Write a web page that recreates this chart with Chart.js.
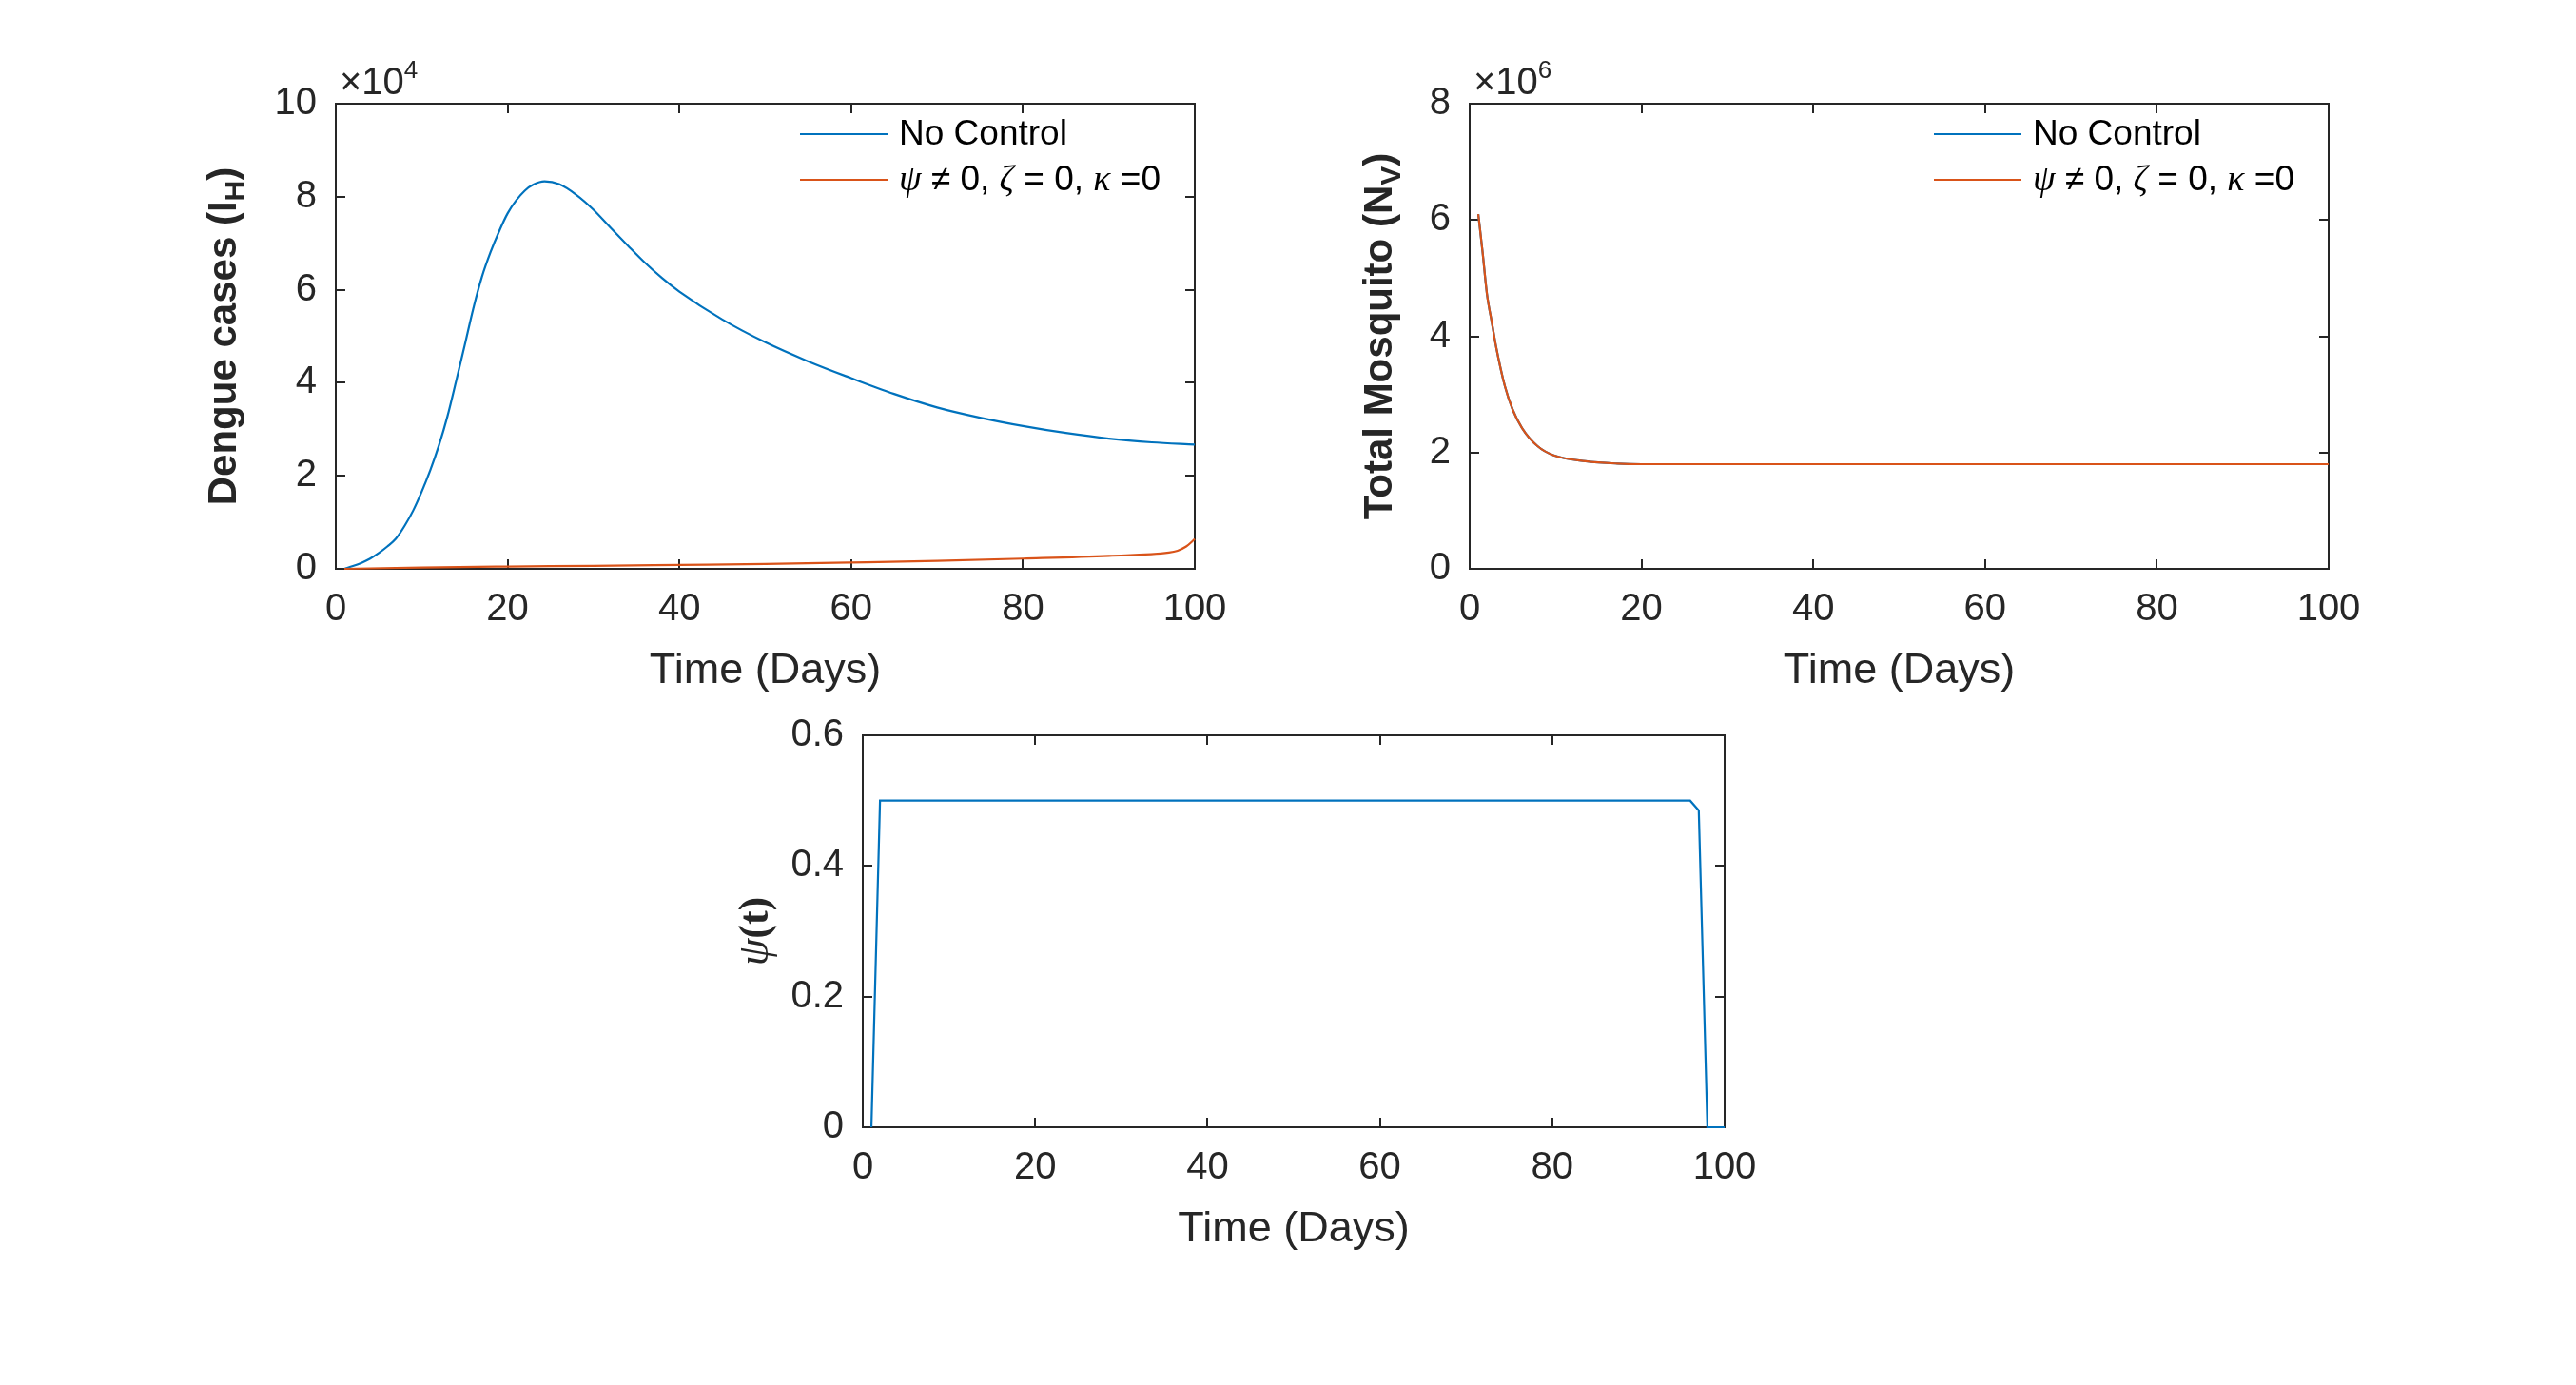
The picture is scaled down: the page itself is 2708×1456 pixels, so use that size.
<!DOCTYPE html>
<html>
<head>
    <title>Dengue control</title>
    <script src="https://cdn.jsdelivr.net/npm/chart.js"></script>
    <style>
        body {
            margin: 0;
            background: #ffffff;
            width: 2708px;
            height: 1456px;
            position: relative;
            overflow: hidden;
        }
        .plot {
            position: absolute;
        }
    </style>
</head>
<body>
    <div class="plot" id="boxDengue"><canvas id="dengueChart"></canvas></div>
    <div class="plot" id="boxMosq"><canvas id="mosqChart"></canvas></div>
    <div class="plot" id="boxPsi"><canvas id="psiChart"></canvas></div>
    <script>
        // ---- data ----
        // Dengue cases I_H (people)
        const dengueDays = [1, 2, 3, 4, 5, 6, 7, 8, 9, 10, 11, 12, 13, 14, 15, 16, 17, 18, 19, 20, 21, 22, 23, 24.3, 26, 28, 30, 32, 34, 36, 38, 40, 45, 50, 55, 60, 65, 70, 75, 80, 85, 90, 95, 100];
        const dengueNoControl = [0, 600, 1300, 2200, 3400, 4800, 6500, 9200, 12500, 16600, 21200, 26500, 32800, 40300, 48000, 55900, 62700, 68000, 72500, 76400, 79200, 81300, 82600, 83300, 82700, 80400, 77200, 73300, 69500, 65800, 62500, 59600, 53600, 48700, 44600, 41000, 37600, 34700, 32500, 30700, 29200, 28000, 27200, 26700];
        const dengueControlDays = [1, 10, 20, 30, 40, 50, 60, 70, 80, 90, 97, 98, 99, 100];
        const dengueControl = [0, 300, 500, 650, 850, 1050, 1350, 1700, 2200, 2800, 3500, 3900, 4800, 6400];

        // Total mosquito N_V
        const mosqDays = [1, 1.5, 2, 2.6, 3.1, 4.1, 5, 6.1, 7.9, 9.8, 13.5, 17.2, 20, 30, 40, 50, 60, 70, 80, 90, 100];
        const mosqControl = [6.10e6, 5.45e6, 4.74e6, 4.22e6, 3.80e6, 3.14e6, 2.74e6, 2.42e6, 2.11e6, 1.95e6, 1.85e6, 1.81e6, 1.80e6, 1.80e6, 1.80e6, 1.80e6, 1.80e6, 1.80e6, 1.80e6, 1.80e6, 1.80e6];
        const mosqNoControl = [6.10e6, 5.45e6, 4.74e6, 4.22e6, 3.80e6, 3.14e6, 2.74e6, 2.42e6, 2.11e6, 1.95e6, 1.85e6, 1.81e6, 1.80e6, 1.80e6, 1.80e6, 1.80e6, 1.80e6, 1.80e6, 1.80e6, 1.80e6, 1.80e6];

        // control psi(t)
        const psiDays = [1, 2, 96, 97, 98, 100];
        const psiValues = [0, 0.5, 0.5, 0.485, 0, 0];

        const xTicks = [0, 20, 40, 60, 80, 100];

        // ---- look ----
        const BLUE = '#0072BD';
        const ORANGE = '#D95319';
        const AXIS = '#262626';
        const SANS = "'Liberation Sans', Arial, sans-serif";
        const SERIF = "'Liberation Serif', 'Times New Roman', serif";
        const TICK = 10;
        const PAD_L = 250, PAD_T = 70, PAD_R = 70, PAD_B = 170;

        Chart.defaults.font.family = SANS;

        function pts(xs, ys) {
            return xs.map((x, i) => ({ x: x, y: ys[i] }));
        }

        function drawSegments(ctx, segs, x, y, center) {
            let total = 0;
            segs.forEach(s => { ctx.font = s.font; total += ctx.measureText(s.text).width; });
            let cur = center ? x - total / 2 : x;
            segs.forEach(s => {
                ctx.font = s.font;
                ctx.fillText(s.text, cur, y + (s.dy || 0));
                cur += ctx.measureText(s.text).width;
            });
        }

        // MATLAB style frame: box and inward ticks under the lines, texts on top
        const matlabFrame = {
            id: 'matlabFrame',
            beforeDatasetsDraw(chart) {
                const { ctx, chartArea: a, scales } = chart;
                const x = scales.x, y = scales.y;
                ctx.save();
                ctx.strokeStyle = AXIS;
                ctx.lineWidth = 2;
                ctx.beginPath();
                x.ticks.forEach(t => {
                    const px = Math.round(x.getPixelForValue(t.value));
                    ctx.moveTo(px, a.bottom); ctx.lineTo(px, a.bottom - TICK);
                    ctx.moveTo(px, a.top); ctx.lineTo(px, a.top + TICK);
                });
                y.ticks.forEach(t => {
                    const py = Math.round(y.getPixelForValue(t.value));
                    ctx.moveTo(a.left, py); ctx.lineTo(a.left + TICK, py);
                    ctx.moveTo(a.right, py); ctx.lineTo(a.right - TICK, py);
                });
                ctx.stroke();
                ctx.strokeRect(a.left, a.top, a.right - a.left, a.bottom - a.top);
                ctx.restore();
            },
            afterDraw(chart, args, o) {
                const { ctx, chartArea: a } = chart;
                ctx.save();
                ctx.fillStyle = AXIS;
                ctx.textBaseline = 'alphabetic';
                // x title
                ctx.textAlign = 'center';
                ctx.font = '45px ' + SANS;
                ctx.fillText('Time (Days)', (a.left + a.right) / 2, a.bottom + 120);

                // exponent
                ctx.textAlign = 'left';
                if (o.exponent) {
                    ctx.font = '40px ' + SANS;
                    ctx.fillText('\u00d710', a.left + 4, a.top - 10);
                    const w = ctx.measureText('\u00d710').width;
                    ctx.font = '26px ' + SANS;
                    ctx.fillText(o.exponent, a.left + 4 + w, a.top - 27);
                }

                // y title, rotated
                ctx.save();
                ctx.translate(a.left - o.yTitleOffset, (a.top + a.bottom) / 2);
                ctx.rotate(-Math.PI / 2);
                drawSegments(ctx, o.yTitle, 0, 0, true);
                ctx.restore();

                // legend, top right inside the box
                if (o.legend) {
                    ctx.lineWidth = 2.2;
                    o.legend.forEach((item, i) => {
                        const ly = a.top + 32 + i * 48;
                        ctx.strokeStyle = chart.data.datasets[item.dataset].borderColor;
                        ctx.beginPath();
                        ctx.moveTo(a.right - 415, ly);
                        ctx.lineTo(a.right - 323, ly);
                        ctx.stroke();
                        ctx.fillStyle = '#000000';
                        ctx.textBaseline = 'middle';
                        drawSegments(ctx, item.segs, a.right - 311, ly + 1, false);
                    });
                }
                ctx.restore();
            }
        };

        const legendSegs = [
            { dataset: 0, segs: [{ text: 'No Control', font: '37px ' + SANS }] },
            { dataset: 1, segs: [
                { text: '\u03c8', font: 'italic 38px ' + SERIF },
                { text: ' \u2260 0, ', font: '37px ' + SANS },
                { text: '\u03b6', font: 'italic 38px ' + SERIF },
                { text: ' = 0, ', font: '37px ' + SANS },
                { text: '\u03ba', font: 'italic 38px ' + SERIF },
                { text: ' =0', font: '37px ' + SANS }
            ] }
        ];

        function makeChart(id, boxId, rect, datasets, yOpts, frameOpts) {
            const box = document.getElementById(boxId);
            box.style.left = (rect.left - PAD_L) + 'px';
            box.style.top = (rect.top - PAD_T) + 'px';
            box.style.width = (rect.width + PAD_L + PAD_R) + 'px';
            box.style.height = (rect.height + PAD_T + PAD_B) + 'px';
            return new Chart(document.getElementById(id), {
                type: 'line',
                data: { datasets: datasets },
                options: {
                    responsive: true,
                    maintainAspectRatio: false,
                    animation: false,
                    devicePixelRatio: 1,
                    layout: { padding: { left: 0, top: PAD_T, right: PAD_R, bottom: 0 } },
                    elements: { point: { radius: 0 } },
                    plugins: {
                        legend: { display: false },
                        tooltip: { enabled: false },
                        matlabFrame: frameOpts
                    },
                    scales: {
                        x: {
                            type: 'linear',
                            min: 0,
                            max: 100,
                            afterBuildTicks: s => { s.ticks = xTicks.map(v => ({ value: v })); },
                            afterFit: s => { s.height = PAD_B; },
                            grid: { display: false, drawTicks: false },
                            border: { display: false },
                            ticks: { color: AXIS, font: { size: 40 }, padding: 19, maxRotation: 0, autoSkip: false }
                        },
                        y: Object.assign({
                            type: 'linear',
                            afterFit: s => { s.width = PAD_L; },
                            grid: { display: false, drawTicks: false },
                            border: { display: false }
                        }, yOpts)
                    }
                },
                plugins: [matlabFrame]
            });
        }

        makeChart('dengueChart', 'boxDengue', { left: 353, top: 109, width: 903, height: 489 }, [
            { label: 'No Control', data: pts(dengueDays, dengueNoControl), borderColor: BLUE, borderWidth: 2.2, cubicInterpolationMode: 'monotone', clip: false, order: 1 },
            { label: '\u03c8 \u2260 0, \u03b6 = 0, \u03ba =0', data: pts(dengueControlDays, dengueControl), borderColor: ORANGE, borderWidth: 2.2, cubicInterpolationMode: 'monotone', clip: false, order: 0 }
        ], {
            min: 0, max: 100000,
            ticks: { stepSize: 20000, color: AXIS, font: { size: 40 }, padding: 20, callback: v => v / 1e4 }
        }, {
            exponent: '4',
            yTitleOffset: 105,
            yTitle: [
                { text: 'Dengue cases (I', font: 'bold 42px ' + SANS },
                { text: 'H', font: 'bold 30px ' + SANS, dy: 9 },
                { text: ')', font: 'bold 42px ' + SANS }
            ],
            legend: legendSegs
        });

        makeChart('mosqChart', 'boxMosq', { left: 1545, top: 109, width: 903, height: 489 }, [
            { label: 'No Control', data: pts(mosqDays, mosqNoControl), borderColor: BLUE, borderWidth: 2.2, cubicInterpolationMode: 'monotone', clip: false, order: 1 },
            { label: '\u03c8 \u2260 0, \u03b6 = 0, \u03ba =0', data: pts(mosqDays, mosqControl), borderColor: ORANGE, borderWidth: 2.2, cubicInterpolationMode: 'monotone', clip: false, order: 0 }
        ], {
            min: 0, max: 8e6,
            ticks: { stepSize: 2e6, color: AXIS, font: { size: 40 }, padding: 20, callback: v => v / 1e6 }
        }, {
            exponent: '6',
            yTitleOffset: 82,
            yTitle: [
                { text: 'Total Mosquito (N', font: 'bold 42px ' + SANS },
                { text: 'V', font: 'bold 30px ' + SANS, dy: 9 },
                { text: ')', font: 'bold 42px ' + SANS }
            ],
            legend: legendSegs
        });

        makeChart('psiChart', 'boxPsi', { left: 907, top: 773, width: 906, height: 412 }, [
            { label: '\u03c8(t)', data: pts(psiDays, psiValues), borderColor: BLUE, borderWidth: 2.2, tension: 0, clip: false }
        ], {
            min: 0, max: 0.6,
            ticks: { stepSize: 0.2, color: AXIS, font: { size: 40 }, padding: 20 }
        }, {
            yTitleOffset: 100,
            yTitle: [
                { text: '\u03c8', font: 'italic 46px ' + SERIF },
                { text: '(t)', font: 'bold 44px ' + SERIF }
            ]
        });
    </script>
</body>
</html>
